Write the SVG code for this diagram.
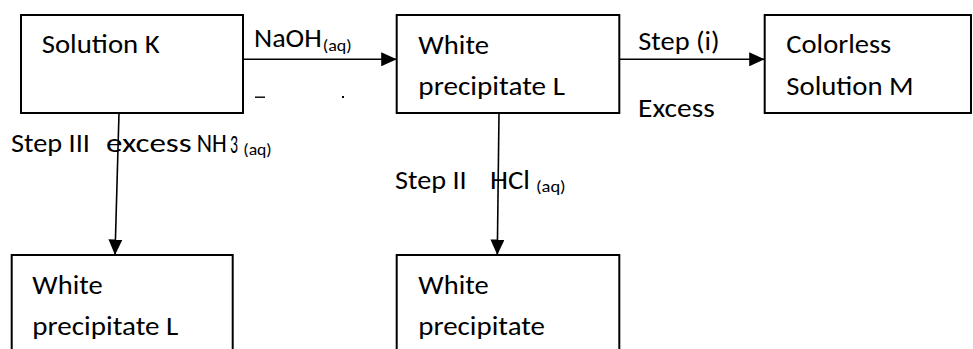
<svg xmlns="http://www.w3.org/2000/svg" width="973" height="349" viewBox="0 0 973 349">
<style>
.box{fill:#fff;stroke:#000;stroke-width:2}
.t{font-family:Carlito,Lato,"Open Sans",sans-serif;font-size:27px;fill:#000}
.c{stroke:#000;stroke-width:1.6;fill:none;marker-end:url(#ah)}
</style>
<defs>
<marker id="ah" markerUnits="userSpaceOnUse" markerWidth="16" markerHeight="14" refX="15.5" refY="7" orient="auto">
<path d="M0,0 L15.5,7 L0,14 Z" fill="#000"/>
</marker>
</defs>
<rect width="973" height="349" fill="#fff"/>
<g id="nodeK">
<rect class="box" x="21" y="15" width="222" height="98"/>
<text class="t" x="41.7" y="53.3" textLength="118" lengthAdjust="spacingAndGlyphs">Solution K</text>
</g>
<g id="nodeL">
<rect class="box" x="396.7" y="15" width="222.6" height="98"/>
<text class="t" x="418.3" y="54.3" textLength="70.7" lengthAdjust="spacingAndGlyphs">White</text>
<text class="t" x="418.3" y="95" textLength="146.7" lengthAdjust="spacingAndGlyphs">precipitate L</text>
</g>
<g id="nodeM">
<rect class="box" x="764.7" y="15" width="206.3" height="98"/>
<text class="t" x="786.3" y="53.3" textLength="105" lengthAdjust="spacingAndGlyphs">Colorless</text>
<text class="t" x="786.3" y="95" textLength="127.4" lengthAdjust="spacingAndGlyphs">Solution M</text>
</g>
<g id="nodeL2">
<rect class="box" x="11.7" y="255" width="221" height="110"/>
<text class="t" x="32.3" y="294.3" textLength="70.3" lengthAdjust="spacingAndGlyphs">White</text>
<text class="t" x="32.3" y="335" textLength="146" lengthAdjust="spacingAndGlyphs">precipitate L</text>
</g>
<g id="nodeP">
<rect class="box" x="396.7" y="255" width="222.6" height="110"/>
<text class="t" x="418.3" y="294.3" textLength="70.3" lengthAdjust="spacingAndGlyphs">White</text>
<text class="t" x="418.3" y="335" textLength="126.7" lengthAdjust="spacingAndGlyphs">precipitate</text>
</g>
<g id="connectors">
<line class="c" x1="243" y1="59.3" x2="396.7" y2="59.3"/>
<line class="c" x1="619.3" y1="59.3" x2="764.7" y2="59.3"/>
<line class="c" x1="119" y1="113" x2="115" y2="255"/>
<line class="c" x1="499" y1="113" x2="497.3" y2="255"/>
</g>
<g id="labels">
<text class="t" x="254" y="46.7"><tspan textLength="67.7" lengthAdjust="spacingAndGlyphs">NaOH</tspan><tspan x="322.7" y="50.7" font-size="17" textLength="29" lengthAdjust="spacingAndGlyphs">(aq)</tspan></text>
<text class="t" x="638.3" y="49.5" textLength="81.4" lengthAdjust="spacingAndGlyphs">Step (i)</text>
<text class="t" x="638" y="116.7" textLength="76.7" lengthAdjust="spacingAndGlyphs">Excess</text>
<text class="t" x="11" y="151.7"><tspan textLength="79" lengthAdjust="spacingAndGlyphs">Step III</tspan><tspan x="106" textLength="85.7" lengthAdjust="spacingAndGlyphs">excess</tspan><tspan x="196.7" textLength="30" lengthAdjust="spacingAndGlyphs">NH</tspan></text>
<text class="t" x="230" y="153.3" font-size="19"><tspan textLength="8" lengthAdjust="spacingAndGlyphs">3</tspan><tspan x="243.3" y="155" font-size="17" textLength="28.4" lengthAdjust="spacingAndGlyphs">(aq)</tspan></text>
<text class="t" x="395" y="189.3"><tspan textLength="71.7" lengthAdjust="spacingAndGlyphs">Step II</tspan><tspan x="490" textLength="40" lengthAdjust="spacingAndGlyphs">HCl</tspan><tspan x="536" y="191.7" font-size="17" textLength="29.7" lengthAdjust="spacingAndGlyphs">(aq)</tspan></text>
</g>
<g id="marks">
<rect x="255" y="96.5" width="10" height="1.4" fill="#000"/>
<rect x="342" y="96" width="2" height="2" fill="#000"/>
</g>
</svg>
